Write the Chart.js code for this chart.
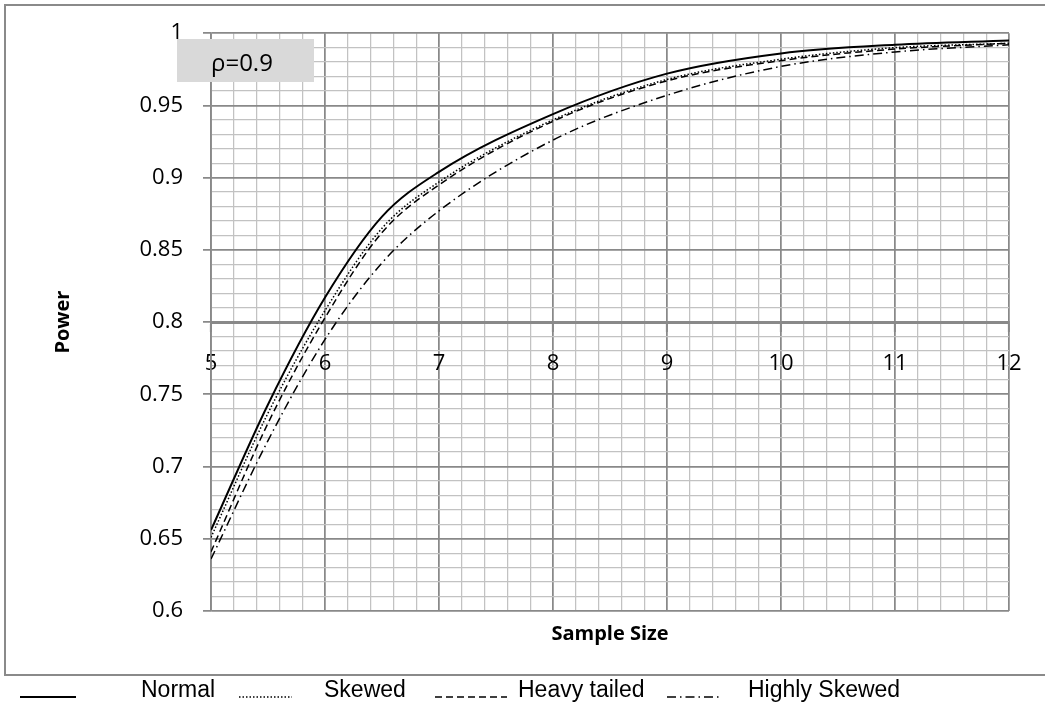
<!DOCTYPE html>
<html>
<head>
<meta charset="utf-8">
<script src="https://cdn.jsdelivr.net/npm/chart.js@4.4.1/dist/chart.umd.min.js"></script>
<style>
  html, body { margin: 0; padding: 0; background: #fff; }
  #wrap { width: 1045px; height: 707px; }
</style>
</head>
<body>
<div id="wrap"><canvas id="powerChart" width="1045" height="707"></canvas></div>
<script>
// values
const sampleSizes  = [5, 5.5, 6, 6.5, 7, 8, 9, 10, 11, 12];
const normal       = [0.656, 0.743, 0.817, 0.873, 0.904, 0.944, 0.972, 0.986, 0.992, 0.995];
const skewed       = [0.651, 0.737, 0.808, 0.865, 0.897, 0.940, 0.968, 0.982, 0.990, 0.993];
const heavyTailed  = [0.641, 0.730, 0.803, 0.862, 0.895, 0.939, 0.967, 0.981, 0.989, 0.993];
const highlySkewed = [0.636, 0.718, 0.788, 0.841, 0.877, 0.926, 0.957, 0.977, 0.987, 0.992];

const seriesNames = ['Normal', 'Skewed', 'Heavy tailed', 'Highly Skewed'];
const xTickLabels = ['5', '6', '7', '8', '9', '10', '11', '12'];
const yTickLabels = ['0.6', '0.65', '0.7', '0.75', '0.8', '0.85', '0.9', '0.95', '1'];
const rhoLabel = 'ρ=0.9';

const MAJOR = '#898989';
const MINOR = '#c2c2c2';

function labelFor(value, labels) {
    const hit = labels.find(l => Math.abs(parseFloat(l) - value) < 1e-6);
    return hit === undefined ? '' : hit;
}

function toPoints(ys) {
    return sampleSizes.map((x, i) => ({ x, y: ys[i] }));
}

const isWhole = v => Math.abs(v - Math.round(v)) < 1e-6;
const isFive = v => isWhole(v * 20);

const lineStyles = [
    { width: 2,   dash: [] },
    { width: 1.5, dash: [1.5, 2] },
    { width: 1.5, dash: [7, 4] },
    { width: 1.5, dash: [9, 4, 1.5, 4] },
];

const frameAndExtras = {
    id: 'frameAndExtras',
    beforeDraw(chart) {
        const ctx = chart.ctx;
        ctx.save();
        ctx.fillStyle = '#fff';
        ctx.fillRect(0, 0, chart.width, chart.height);
        ctx.strokeStyle = '#8a8a8a';
        ctx.lineWidth = 2;
        ctx.strokeRect(5, 5, chart.width + 10, 670);
        ctx.restore();
    },
    afterDraw(chart) {
        const ctx = chart.ctx;
        ctx.save();
        // rho label box
        ctx.fillStyle = '#d9d9d9';
        ctx.fillRect(177, 39, 137, 43);
        ctx.fillStyle = '#000';
        ctx.font = '24px "Open Sans"';
        ctx.textBaseline = 'middle';
        ctx.textAlign = 'left';
        ctx.fillText(rhoLabel, 211, 64);

        // legend under the frame
        const items = [
            { x: 20,  w: 56, tx: 141 },
            { x: 239, w: 53, tx: 324 },
            { x: 435, w: 72, tx: 518 },
            { x: 667, w: 53, tx: 748 },
        ];
        ctx.font = '23px "Liberation Sans"';
        chart.data.datasets.forEach((ds, i) => {
            const it = items[i];
            ctx.strokeStyle = '#000';
            ctx.lineWidth = ds.borderWidth;
            ctx.setLineDash(ds.borderDash || []);
            ctx.beginPath();
            ctx.moveTo(it.x, 697);
            ctx.lineTo(it.x + it.w, 697);
            ctx.stroke();
            ctx.setLineDash([]);
            ctx.fillText(ds.label, it.tx, 691);
        });
        ctx.restore();
    }
};

Chart.defaults.font.family = '"Open Sans"';
Chart.defaults.color = '#000';

const ctx = document.getElementById('powerChart').getContext('2d');

new Chart(ctx, {
    type: 'line',
    data: {
        datasets: [normal, skewed, heavyTailed, highlySkewed].map((ys, i) => ({
            label: seriesNames[i],
            data: toPoints(ys),
            borderColor: '#000',
            borderWidth: lineStyles[i].width,
            borderDash: lineStyles[i].dash,
            pointRadius: 0,
            fill: false,
            cubicInterpolationMode: 'monotone',
        })),
    },
    options: {
        responsive: false,
        animation: false,
        layout: { padding: { left: 0, top: 33, right: 36, bottom: 0 } },
        plugins: {
            legend: { display: false },
            tooltip: { enabled: false },
        },
        scales: {
            x: {
                type: 'linear',
                position: { y: 0.8 },
                min: 5,
                max: 12,
                ticks: {
                    stepSize: 0.2,
                    autoSkip: false,
                    maxRotation: 0,
                    padding: 20,
                    font: { size: 22 },
                    callback: v => labelFor(v, xTickLabels),
                },
                grid: {
                    color: c => isWhole(c.tick.value) ? MAJOR : MINOR,
                    lineWidth: c => isWhole(c.tick.value) ? 1.75 : 1.25,
                    tickColor: c => isWhole(c.tick.value) ? MAJOR : 'rgba(0,0,0,0)',
                    tickLength: 8,
                    tickWidth: 2,
                },
                border: { color: MAJOR, width: 3 },
            },
            xTitle: {
                type: 'linear',
                axis: 'x',
                position: 'bottom',
                min: 5,
                max: 12,
                ticks: { display: false },
                grid: { display: false },
                border: { display: false },
                title: {
                    display: true,
                    text: 'Sample Size',
                    font: { size: 20, weight: 'bold' },
                    padding: { top: 0, bottom: 61 },
                },
                afterFit: s => { s.height = 96; },
            },
            y: {
                type: 'linear',
                min: 0.6,
                max: 1,
                ticks: {
                    stepSize: 0.01,
                    autoSkip: false,
                    padding: 20,
                    font: { size: 22 },
                    callback: v => labelFor(v, yTickLabels),
                },
                grid: {
                    color: c => isFive(c.tick.value) ? MAJOR : MINOR,
                    lineWidth: c => isFive(c.tick.value) ? 1.75 : 1.25,
                    tickColor: c => isFive(c.tick.value) ? MAJOR : 'rgba(0,0,0,0)',
                    tickLength: 8,
                },
                border: { color: MAJOR, width: 1.75 },
                title: {
                    display: true,
                    text: 'Power',
                    font: { size: 20, weight: 'bold' },
                    padding: { top: 51, bottom: 0 },
                },
                afterFit: s => { s.width = 211; },
            },
        },
    },
    plugins: [frameAndExtras],
});
</script>
</body>
</html>
